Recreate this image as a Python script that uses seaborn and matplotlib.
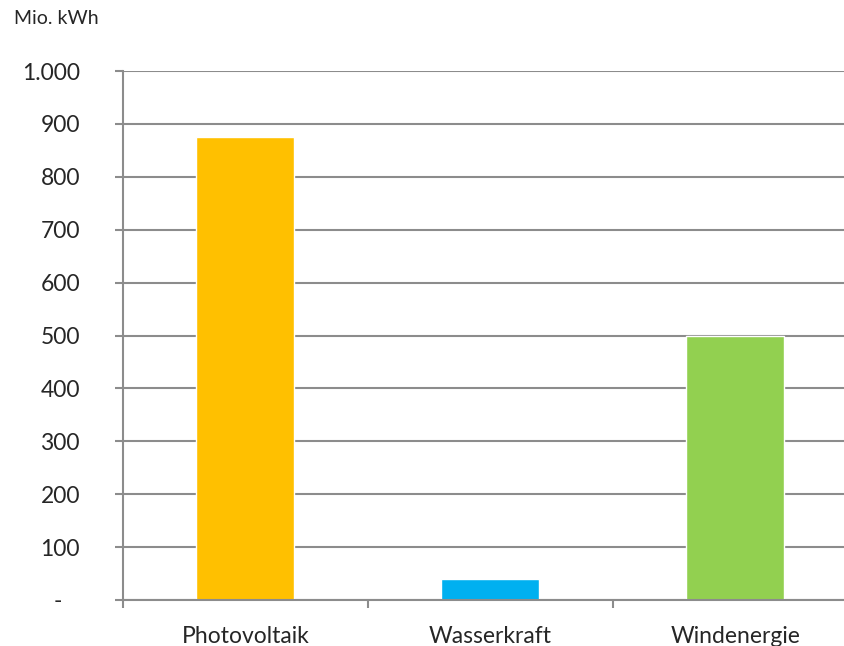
import matplotlib
matplotlib.use('Agg')
import matplotlib.pyplot as plt
import seaborn as sns
import pandas as pd
from matplotlib.ticker import FixedLocator, FuncFormatter

# Data
categories = ['Photovoltaik', 'Wasserkraft', 'Windenergie']
values = [875, 40, 500]
colors = ['#FFC000', '#00B0F0', '#92D050']
y_ticks = [0, 100, 200, 300, 400, 500, 600, 700, 800, 900, 1000]

df = pd.DataFrame({'Quelle': categories, 'Wert': values})

sns.set_style('white')
plt.rcParams['font.family'] = ['Lato', 'DejaVu Sans']

fig = plt.figure(figsize=(8.44, 6.46), dpi=100)
ax = fig.add_axes([123/844, 46/646, 735/844, 529/646])

sns.barplot(data=df, x='Quelle', y='Wert', hue='Quelle', palette=colors,
            width=0.4, ax=ax, legend=False, saturation=1)

ax.set_xlim(-0.5, 2.5)
ax.set_ylim(0, 1000)
ax.set_xlabel('')
ax.set_ylabel('')

grid_col = '#8C8C8C'
ax.set_yticks(y_ticks)
ax.yaxis.set_major_formatter(FuncFormatter(
    lambda v, p: '-   ' if v == 0 else f'{int(v):,}'.replace(',', '.')))
ax.yaxis.grid(True, color=grid_col, linewidth=1.5)
ax.set_axisbelow(True)
ax.tick_params(axis='y', length=6, width=1.5, color=grid_col, pad=25,
               labelsize=16.5, left=True)

# category boundaries as ticks, names as minor ticks
ax.xaxis.set_major_locator(FixedLocator([-0.5, 0.5, 1.5, 2.5]))
ax.xaxis.set_major_formatter(FuncFormatter(lambda v, p: ''))
ax.xaxis.set_minor_locator(FixedLocator([0, 1, 2]))
ax.set_xticklabels(categories, minor=True)
ax.tick_params(axis='x', which='major', length=6, width=1.5, color=grid_col,
               bottom=True)
ax.tick_params(axis='x', which='minor', length=0, pad=19, labelsize=16.5)

for s in ['top', 'right']:
    ax.spines[s].set_visible(False)
for s in ['left', 'bottom']:
    ax.spines[s].set_color(grid_col)
    ax.spines[s].set_linewidth(1.5)

fig.text(14/844, 1 - 18/646, 'Mio. kWh', fontsize=14, va='center', ha='left')

fig.savefig('out.png', dpi=100)
